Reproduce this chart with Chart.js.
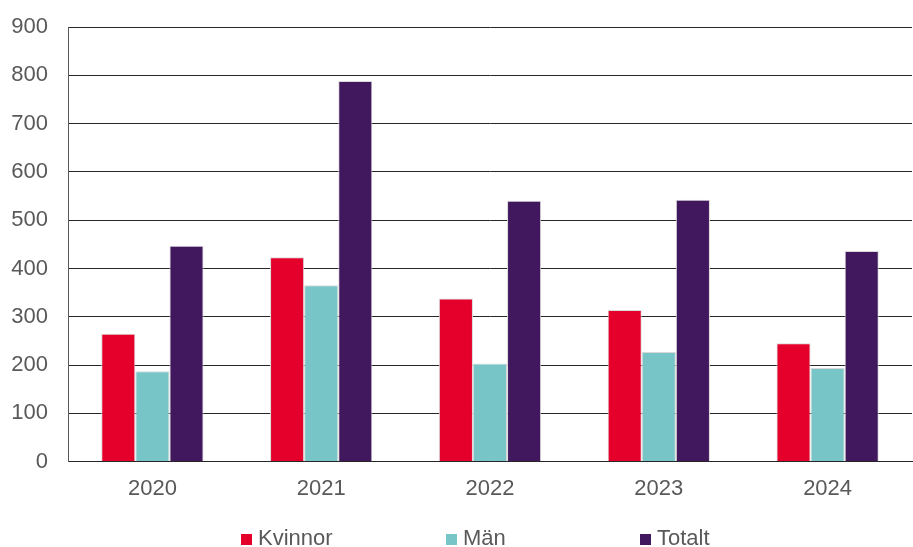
<!DOCTYPE html>
<html>
<head>
<meta charset="utf-8">
<script src="https://cdn.jsdelivr.net/npm/chart.js@4.4.1/dist/chart.umd.min.js"></script>
<style>
  html, body { margin: 0; padding: 0; background: #fff; }
  #wrap { position: relative; width: 913px; height: 547px; }
  #legend {
    position: absolute; left: 241px; top: 527px; height: 22px;
    display: flex; font-family: "Liberation Sans", Arial, sans-serif;
    font-size: 22px; color: #595959; line-height: 22px;
  }
  #legend .item { display: flex; align-items: center; }
  #legend .box { width: 11px; height: 11px; margin-right: 6px; margin-top: 3px; }
</style>
</head>
<body>
<div id="wrap">
  <canvas id="myChart" width="913" height="547"></canvas>
  <div id="legend"></div>
</div>
<script>
// categories and series
var years = ['2020', '2021', '2022', '2023', '2024'];
var kvinnor = [265, 423, 338, 314, 245];
var man = [187, 365, 203, 227, 194];
var totalt = [447, 788, 540, 542, 436];
var seriesNames = ['Kvinnor', 'Män', 'Totalt'];
var seriesColors = ['#E4002B', '#78C5C7', '#41175E'];

var fontFamily = '"Liberation Sans", Arial, sans-serif';
var element = document.getElementById('myChart').getContext('2d');

var chartData = {
    labels: years,
    datasets: [kvinnor, man, totalt].map(function (values, i) {
        return {
            label: seriesNames[i],
            data: values,
            backgroundColor: seriesColors[i],
            borderColor: '#d9d9d9',
            borderWidth: 1,
            barPercentage: 1,
            categoryPercentage: 0.606
        };
    })
};

var chartOptions = {
    responsive: false,
    animation: false,
    layout: { padding: { top: 0, right: 1, bottom: 31, left: 0 } },
    plugins: { legend: { display: false }, tooltip: { enabled: false } },
    scales: {
        x: {
            grid: { display: false, drawTicks: false },
            border: { color: '#262626', width: 1 },
            ticks: { color: '#595959', padding: 14, font: { family: fontFamily, size: 22 } }
        },
        y: {
            min: 0,
            max: 900,
            afterFit: function (axis) {
                axis.width = 68;
                axis.paddingTop = 27;
            },
            ticks: { stepSize: 100, color: '#595959', padding: 20, font: { family: fontFamily, size: 22 } },
            grid: { color: '#262626', lineWidth: 1, drawTicks: false },
            border: { color: '#595959', width: 1 }
        }
    }
};

var chart = new Chart(element, { type: 'bar', data: chartData, options: chartOptions });

// html legend with wide, even spacing
var legend = document.getElementById('legend');
var itemWidths = [205, 194, 80];
seriesNames.forEach(function (name, i) {
    var item = document.createElement('div');
    item.className = 'item';
    item.style.width = itemWidths[i] + 'px';
    var box = document.createElement('span');
    box.className = 'box';
    box.style.background = seriesColors[i];
    var text = document.createElement('span');
    text.textContent = name;
    item.appendChild(box);
    item.appendChild(text);
    legend.appendChild(item);
});
</script>
</body>
</html>
